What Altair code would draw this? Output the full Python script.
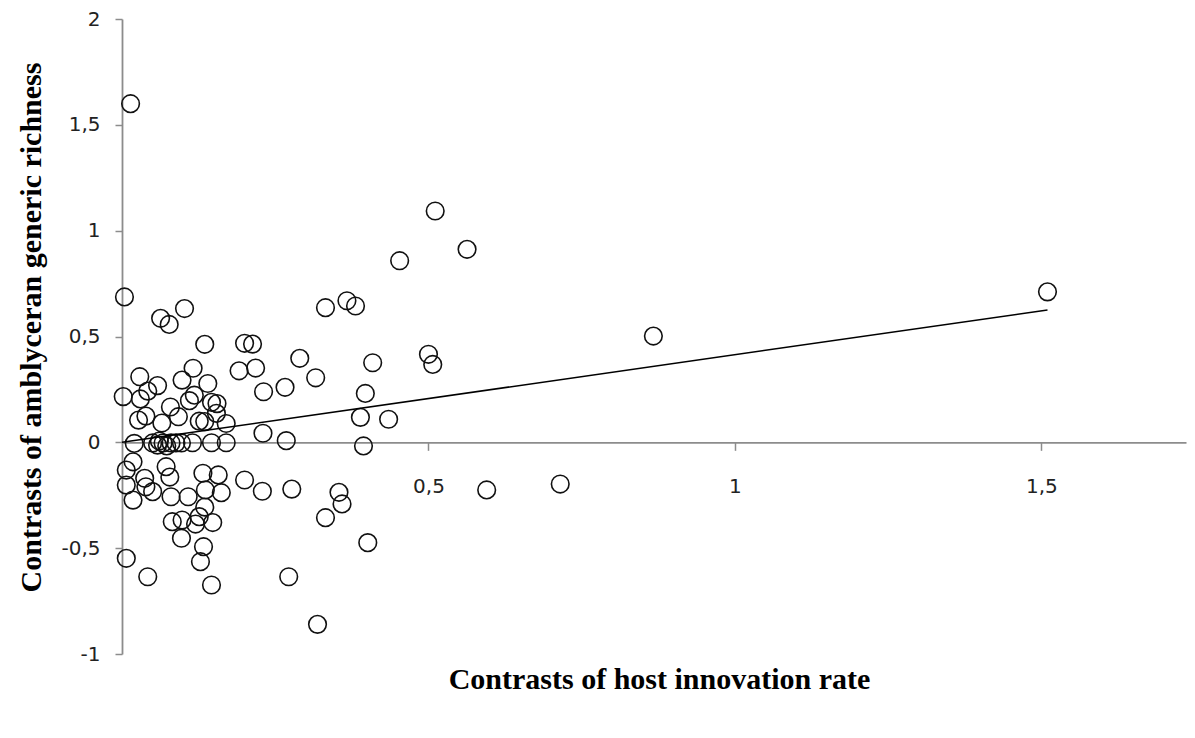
import altair as alt
import pandas as pd

# Data (contrast values)
x_vals = [
    0.014, 0.004, 0.511, 0.563, 0.453, 0.332, 0.367, 0.381, 1.510, 0.867,
    0.500, 0.507, 0.409, 0.397, 0.389, 0.435, 0.394, 0.290, 0.316, 0.266,
    0.231, 0.230, 0.268, 0.063, 0.077, 0.102, 0.135, 0.200, 0.213, 0.116,
    0.191, 0.218, 0.029, 0.058, 0.098, 0.140, 0.002, 0.030, 0.042, 0.079,
    0.092, 0.110, 0.118, 0.146, 0.155, 0.126, 0.135, 0.154, 0.170, 0.027,
    0.039, 0.065, 0.020, 0.050, 0.058, 0.067, 0.080, 0.088, 0.097, 0.115,
    0.146, 0.170, 0.073, 0.061, 0.018, 0.007, 0.007, 0.018, 0.037, 0.039,
    0.050, 0.072, 0.078, 0.080, 0.108, 0.132, 0.157, 0.200, 0.229, 0.277,
    0.354, 0.359, 0.332, 0.401, 0.136, 0.162, 0.135, 0.082, 0.098, 0.126,
    0.120, 0.148, 0.097, 0.133, 0.128, 0.146, 0.007, 0.042, 0.272, 0.319,
    0.595, 0.715,
]
y_vals = [
    1.600, 0.687, 1.093, 0.912, 0.858, 0.636, 0.669, 0.644, 0.711, 0.502,
    0.416, 0.368, 0.376, 0.231, 0.118, 0.109, -0.017, 0.397, 0.305, 0.260,
    0.239, 0.043, 0.008, 0.586, 0.557, 0.632, 0.463, 0.468, 0.464, 0.350,
    0.338, 0.351, 0.310, 0.268, 0.294, 0.278, 0.216, 0.205, 0.242, 0.167,
    0.121, 0.197, 0.223, 0.189, 0.183, 0.100, 0.098, 0.137, 0.089, 0.105,
    0.124, 0.091, -0.005, -0.003, -0.013, -0.003, -0.003, -0.003, -0.003, -0.002,
    -0.002, -0.002, -0.017, 0.006, -0.092, -0.131, -0.202, -0.273, -0.170, -0.210,
    -0.233, -0.115, -0.164, -0.257, -0.257, -0.146, -0.154, -0.178, -0.231, -0.221,
    -0.236, -0.291, -0.356, -0.474, -0.225, -0.238, -0.306, -0.375, -0.367, -0.351,
    -0.386, -0.379, -0.453, -0.493, -0.564, -0.674, -0.548, -0.635, -0.635, -0.860,
    -0.225, -0.197,
]
# Trend line end points
trend_x = [0.0, 1.51]
trend_y = [0.0, 0.625]

x_ticks = [0.5, 1, 1.5]
y_ticks = [-1, -0.5, 0, 0.5, 1, 1.5, 2]

x_title = "Contrasts of host innovation rate"
y_title = "Contrasts of amblyceran generic richness"

X_DOMAIN = [0, 1.736]
Y_DOMAIN = [-1, 2]
W, H = 1064, 635

pts = pd.DataFrame({"x": x_vals, "y": y_vals})
trend = pd.DataFrame({"x": trend_x, "y": trend_y})

xscale = alt.Scale(domain=X_DOMAIN, nice=False, zero=False)
yscale = alt.Scale(domain=Y_DOMAIN, nice=False, zero=False)

zero_offset = -H * (0 - Y_DOMAIN[0]) / (Y_DOMAIN[1] - Y_DOMAIN[0])

label_expr = "replace(toString(datum.value), '.', ',')"
axis_common = dict(
    grid=False,
    domainColor="#8c8c8c",
    domainWidth=1.8,
    tickColor="#8c8c8c",
    tickWidth=1.5,
    labelFont="DejaVu Sans",
    labelFontSize=20,
    labelColor="#222222",
    labelExpr=label_expr,
    titleFont="Liberation Serif",
    titleFontSize=30,
    titleFontWeight="bold",
    titleColor="#000000",
)

x_axis = alt.Axis(
    values=x_ticks,
    offset=zero_offset,
    tickSize=8,
    labelPadding=26,
    title=x_title,
    titleX=537,
    titleY=246,
    titleBaseline="alphabetic",
    titleAlign="center",
    **axis_common,
)
y_axis = alt.Axis(
    values=y_ticks,
    tickSize=7,
    labelPadding=15,
    title=y_title,
    titleAngle=-90,
    titleX=-82,
    titleY=308,
    titleBaseline="alphabetic",
    titleAlign="center",
    **axis_common,
)

points = alt.Chart(pts).mark_point(
    shape="circle", filled=False, size=310, strokeWidth=1.6,
    color="#111111", opacity=1,
).encode(
    x=alt.X("x:Q", scale=xscale, axis=x_axis),
    y=alt.Y("y:Q", scale=yscale, axis=y_axis),
)

line = alt.Chart(trend).mark_line(color="#000000", strokeWidth=1.5).encode(
    x=alt.X("x:Q", scale=xscale),
    y=alt.Y("y:Q", scale=yscale),
)

chart = alt.layer(points, line).properties(
    width=W,
    height=H,
    background="white",
    autosize=alt.AutoSizeParams(type="none"),
    padding={"left": 114, "top": 11, "right": 1, "bottom": 76},
).configure_view(stroke=None, strokeWidth=0)

chart.save("out.html", embed_options={"renderer": "svg", "actions": False})
